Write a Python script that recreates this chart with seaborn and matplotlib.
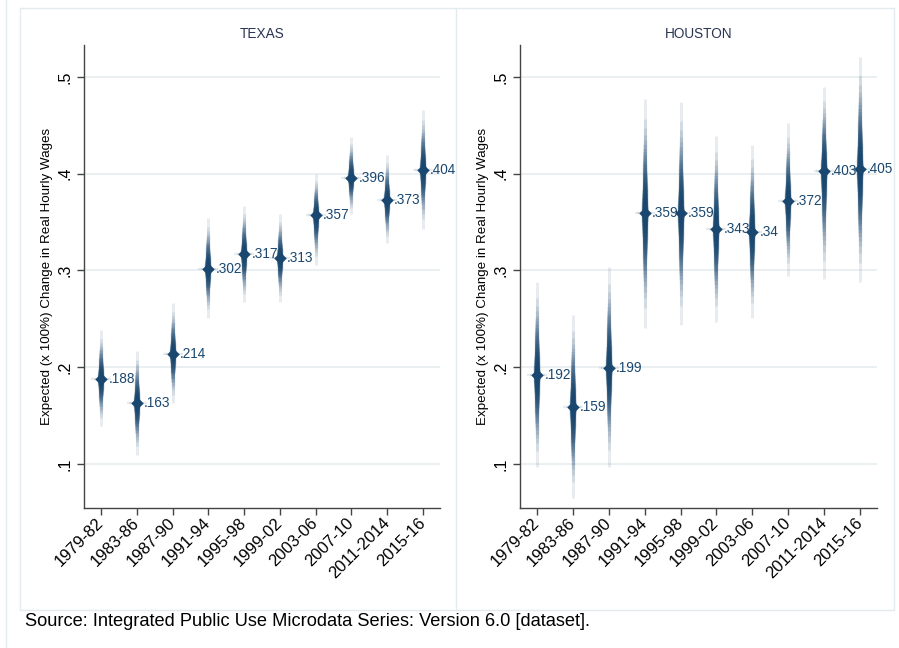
import matplotlib
matplotlib.use("Agg")
import matplotlib.pyplot as plt
import seaborn as sns
import numpy as np
import pandas as pd
from matplotlib.lines import Line2D
from statistics import NormalDist

# ---------------- data ----------------
periods = ["1979-82", "1983-86", "1987-90", "1991-94", "1995-98",
           "1999-02", "2003-06", "2007-10", "2011-2014", "2015-16"]

texas_est = [.188, .163, .214, .302, .317, .313, .357, .396, .373, .404]
texas_lo = [.139, .109, .163, .251, .267, .267, .306, .358, .328, .343]
texas_hi = [.238, .217, .266, .354, .367, .358, .400, .438, .419, .466]

houston_est = [.192, .159, .199, .359, .359, .343, .340, .372, .403, .405]
houston_lo = [.097, .065, .097, .241, .244, .247, .251, .294, .291, .288]
houston_hi = [.288, .254, .304, .477, .474, .439, .430, .452, .490, .521]

panel_titles = ["TEXAS", "HOUSTON"]
yticks = [.1, .2, .3, .4, .5]
ylabel = "Expected (x 100%) Change in Real Hourly Wages"
source = "Source: Integrated Public Use Microdata Series: Version 6.0 [dataset]."

# ---------------- style ----------------
sns.set_theme(style="white")
plt.rcParams["font.family"] = ["Liberation Sans", "DejaVu Sans"]

NAVY = "#1a476f"
GRID = "#e8eef1"
FRAME = "#e4ebee"

W, H = 899, 648
fig = plt.figure(figsize=(W / 100, H / 100), dpi=100)
fig.patch.set_facecolor("white")


def fx(px):
    return px / W


def fy(py):
    return 1 - py / H


# outer frames
for xs, ys in [((6, 6), (0, 648)),
               ((20, 894), (8, 8)), ((20, 894), (610, 610)),
               ((20, 20), (8, 610)), ((894, 894), (8, 610)),
               ((456, 456), (8, 610))]:
    fig.add_artist(Line2D([fx(x) for x in xs], [fy(y) for y in ys],
                          transform=fig.transFigure, color=FRAME, lw=1.0))

ax_top, ax_bot = 45, 508
axes_px = [(84, 440), (520, 877)]

nd = NormalDist()
N_LEVELS = 44
PMAX = 0.99
ZMAX = nd.inv_cdf((1 + PMAX) / 2)
levels = [(i + 1) / N_LEVELS * PMAX for i in range(N_LEVELS)]
fracs = [nd.inv_cdf((1 + p) / 2) / ZMAX for p in levels]


def smear(ax, xpos, est, lo, hi):
    est = np.asarray(est); lo = np.asarray(lo); hi = np.asarray(hi)
    for f in sorted(fracs, reverse=True):
        lw_px = 2.9 + 4.2 * (1 - f) ** 2.0
        ax.vlines(xpos, est - f * (est - lo), est + f * (hi - est),
                  colors=NAVY, lw=lw_px * 0.72, alpha=0.10,
                  capstyle="butt", zorder=3)
    for f in [1.0, 0.75, 0.5, 0.3]:
        ax.hlines(est, xpos - 0.28 * f, xpos + 0.28 * f, colors=NAVY,
                  lw=2.2 * 0.72, alpha=0.10, capstyle="butt", zorder=3)


datasets = [(texas_est, texas_lo, texas_hi), (houston_est, houston_lo, houston_hi)]

for k, ((x0, x1), (est, lo, hi)) in enumerate(zip(axes_px, datasets)):
    ax = fig.add_axes([fx(x0), fy(ax_bot), fx(x1 - x0), (ax_bot - ax_top) / H])
    ax.set_facecolor("white")
    xpos = np.arange(len(periods))
    df = pd.DataFrame({"x": xpos, "est": est})

    for yt in yticks:
        ax.axhline(yt, color=GRID, lw=1.3, zorder=1)

    smear(ax, xpos, est, lo, hi)
    sns.scatterplot(data=df, x="x", y="est", marker="D", s=40, color=NAVY,
                    edgecolor=NAVY, linewidth=0, ax=ax, zorder=5, legend=False)

    for xi, v in zip(xpos, est):
        lab = ("%.3f" % v).rstrip("0").lstrip("0")
        ax.text(xi + 0.2, v, lab, color=NAVY, fontsize=9.8, va="center",
                ha="left", zorder=6)

    ax.set_xlim(-0.48, 9.48)
    ax.set_ylim(0.0545, 0.533)
    ax.set_xticks(xpos)
    ax.set_xticklabels(periods, rotation=45, ha="right", va="center",
                       rotation_mode="anchor", fontsize=12)
    ax.set_yticks(yticks)
    ax.set_yticklabels([("%.1f" % t).lstrip("0") for t in yticks], rotation=90,
                       va="center", fontsize=11.5)
    ax.tick_params(axis="both", direction="out", length=5, width=1,
                   color="#444444", labelcolor="black", pad=3,
                   bottom=True, left=True)
    ax.tick_params(axis="x", pad=4)
    ax.set_xlabel("")
    ax.set_ylabel("")
    for s in ["top", "right"]:
        ax.spines[s].set_visible(False)
    for s in ["left", "bottom"]:
        ax.spines[s].set_color("#444444")
        ax.spines[s].set_linewidth(1.0)

    fig.text(fx((x0 + x1) / 2), fy(34), panel_titles[k], ha="center",
             va="center", fontsize=9.8, color="#2a3552")
    fig.text(fx(x0 - 37), fy((ax_top + ax_bot) / 2), ylabel, rotation=90,
             ha="center", va="center", fontsize=9.6, color="black")

fig.text(fx(25), fy(622), source, ha="left", va="center", fontsize=13.15,
         color="black")

fig.savefig("out.png", dpi=100, facecolor="white")
